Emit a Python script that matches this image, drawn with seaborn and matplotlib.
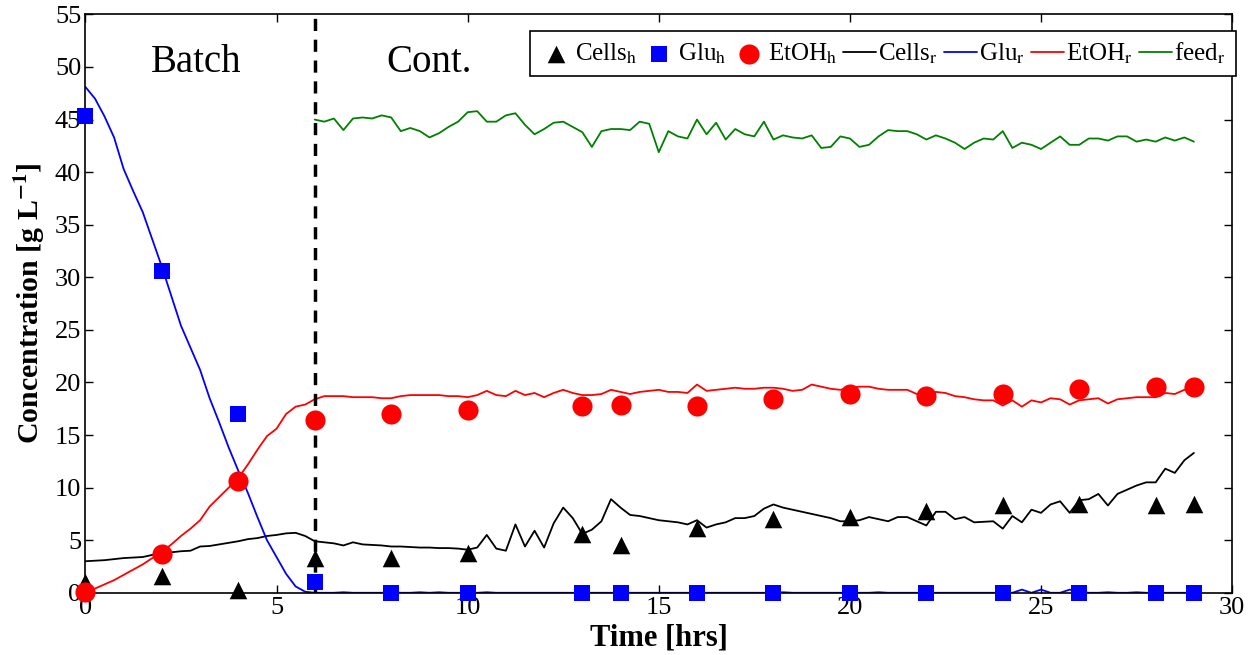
import numpy as np
import matplotlib
matplotlib.use('Agg')
import matplotlib.pyplot as plt
import seaborn as sns

# measured (hplc) samples
t_h = [0, 2, 4, 6, 8, 10, 13, 14, 16, 18, 20, 22, 24, 26, 28, 29]
cells_h = [1.0, 1.6, 0.3, 3.3, 3.3, 3.8, 5.6, 4.5, 6.2, 7.0, 7.2, 7.8, 8.3, 8.4, 8.3, 8.4]
glu_h = [45.3, 30.6, 17.0, 1.0, 0.0, 0.0, 0.0, 0.0, 0.0, 0.0, 0.0, 0.0, 0.0, 0.0, 0.0, 0.0]
etoh_h = [0.1, 3.7, 10.6, 16.4, 17.0, 17.4, 17.8, 17.9, 17.8, 18.4, 18.9, 18.7, 18.9, 19.4, 19.6, 19.6]

# real-time estimates, every 15 min
t_r = np.arange(0, 29.01, 0.25)
cells_r = [3.0, 3.05, 3.1, 3.2,  3.3, 3.35, 3.4, 3.6,  3.7, 3.85, 3.95, 4.0,
           4.4, 4.45, 4.6, 4.75,  4.9, 5.1, 5.2, 5.4,  5.5, 5.65, 5.7, 5.4,
           4.9, 4.8, 4.7, 4.5,  4.8, 4.6, 4.55, 4.5,  4.4, 4.4, 4.35, 4.3,
           4.3, 4.25, 4.25, 4.2,  4.1, 4.3, 5.5, 4.2,  4.0, 6.5, 4.4, 5.9,
           4.3, 6.6, 8.1, 7.1,  5.6, 6.0, 6.8, 8.9,  8.1, 7.4, 7.3, 7.1,
           6.9, 6.8, 6.7, 6.5,  6.9, 6.2, 6.5, 6.7,  7.1, 7.1, 7.3, 8.0,
           8.4, 8.1, 7.9, 7.7,  7.5, 7.3, 7.1, 6.8,  6.8, 6.9, 7.2, 7.0,
           6.8, 7.2, 7.2, 6.8,  6.4, 7.7, 7.7, 7.0,  7.2, 6.7, 6.75, 6.8,
           6.1, 7.3, 6.7, 7.9,  7.6, 8.4, 8.7, 7.6,  8.8, 8.9, 9.4, 8.3,
           9.4, 9.8, 10.2, 10.5,  10.5, 11.8, 11.4, 12.6,  13.3]
glu_r = [48.1, 47.0, 45.3, 43.3,  40.3, 38.2, 36.2, 33.6,  31.0, 28.2, 25.4, 23.3,
         21.2, 18.5, 16.2, 13.8,  11.6, 9.5, 7.2, 5.0,  3.4, 1.8, 0.6, 0.1,
         0.0, 0.0, 0.0, 0.05,  0.0, 0.0, 0.0, 0.0,  0.05, 0.0, 0.0, 0.05,
         0.0, 0.05, 0.0, 0.0,  0.0, 0.0, 0.05, 0.0,  0.0, 0.0, 0.0, 0.0,
         0.0, 0.0, 0.0, 0.0,  0.0, 0.0, 0.0, 0.0,  0.0, 0.0, 0.0, 0.0,
         0.0, 0.0, 0.0, 0.0,  0.0, 0.0, 0.0, 0.0,  0.0, 0.0, 0.0, 0.0,
         0.0, 0.05, 0.0, 0.0,  0.0, 0.0, 0.0, 0.0,  0.0, 0.0, 0.0, 0.05,
         0.0, 0.0, 0.0, 0.0,  0.0, 0.0, 0.0, 0.0,  0.0, 0.0, 0.0, 0.0,
         0.0, 0.0, 0.3, 0.0,  0.3, 0.0, 0.0, 0.3,  0.1, 0.0, 0.0, 0.05,
         0.0, 0.0, 0.05, 0.0,  0.0, 0.0, 0.0, 0.0,  0.0]
etoh_r = [0.1, 0.4, 0.8, 1.2,  1.7, 2.2, 2.7, 3.3,  3.9, 4.6, 5.4, 6.1,
          6.9, 8.2, 9.1, 10.0,  10.9, 12.2, 13.6, 14.9,  15.6, 17.0, 17.7, 17.9,
          18.4, 18.7, 18.7, 18.7,  18.6, 18.6, 18.6, 18.5,  18.5, 18.7, 18.8, 18.8,
          18.8, 18.8, 18.7, 18.7,  18.6, 18.8, 19.2, 18.8,  18.7, 19.2, 18.8, 19.0,
          18.6, 19.0, 19.3, 19.0,  18.8, 18.8, 18.9, 19.3,  19.1, 18.9, 19.1, 19.2,
          19.3, 19.1, 19.1, 19.0,  19.8, 19.2, 19.3, 19.4,  19.5, 19.4, 19.4, 19.5,
          19.5, 19.4, 19.2, 19.3,  19.8, 19.6, 19.4, 19.3,  19.5, 19.6, 19.6, 19.4,
          19.3, 19.3, 19.3, 18.9,  18.7, 19.1, 19.0, 18.7,  18.6, 18.4, 18.3, 18.3,
          17.8, 18.3, 17.7, 18.3,  18.1, 18.5, 18.4, 17.9,  18.3, 18.4, 18.5, 18.0,
          18.4, 18.5, 18.6, 18.6,  18.6, 19.0, 18.9, 19.3,  19.6]
# feed starts at 6 h
t_feed = t_r[24:]
feed_r = [45.0, 44.8, 45.1, 44.0,  45.1, 45.2, 45.1, 45.4,  45.2, 43.9, 44.2, 43.9,
          43.3, 43.7, 44.3, 44.8,  45.7, 45.8, 44.8, 44.8,  45.4, 45.6, 44.5, 43.6,
          44.1, 44.7, 44.8, 44.3,  43.8, 42.4, 43.9, 44.1,  44.1, 44.0, 44.8, 44.6,
          41.9, 43.9, 43.4, 43.2,  45.0, 43.6, 44.7, 43.1,  44.1, 43.6, 43.4, 44.8,
          43.1, 43.5, 43.3, 43.2,  43.5, 42.3, 42.4, 43.4,  43.2, 42.4, 42.6, 43.4,
          44.0, 43.9, 43.9, 43.6,  43.1, 43.5, 43.2, 42.8,  42.2, 42.8, 43.2, 43.1,
          43.9, 42.3, 42.8, 42.6,  42.2, 42.8, 43.4, 42.6,  42.6, 43.2, 43.2, 43.0,
          43.4, 43.4, 42.9, 43.1,  42.9, 43.3, 43.0, 43.3,  42.9]

sns.set_style('ticks')
plt.rcParams['font.family'] = ['Liberation Serif', 'DejaVu Serif']
plt.rcParams['mathtext.fontset'] = 'stix'
plt.rcParams['text.color'] = 'black'
plt.rcParams['axes.labelcolor'] = 'black'

fig, ax = plt.subplots(figsize=(12.56, 6.55), dpi=100)
fig.subplots_adjust(left=0.068, right=0.981, bottom=0.095, top=0.978)

sns.scatterplot(x=t_h, y=cells_h, marker='^', s=160, color='black', linewidth=0,
                label=r'Cells$_\mathrm{h}$', ax=ax, zorder=5, clip_on=False)
sns.scatterplot(x=t_h, y=glu_h, marker='s', s=120, color='blue', linewidth=0,
                label=r'Glu$_\mathrm{h}$', ax=ax, zorder=5, clip_on=False)
sns.scatterplot(x=t_h, y=etoh_h, marker='o', s=210, color='red', linewidth=0,
                label=r'EtOH$_\mathrm{h}$', ax=ax, zorder=5, clip_on=False)
sns.lineplot(x=t_r, y=cells_r, color='black', lw=1.3, label=r'Cells$_\mathrm{r}$', ax=ax)
sns.lineplot(x=t_r, y=glu_r, color='blue', lw=1.3, label=r'Glu$_\mathrm{r}$', ax=ax)
sns.lineplot(x=t_r, y=etoh_r, color='red', lw=1.3, label=r'EtOH$_\mathrm{r}$', ax=ax)
sns.lineplot(x=t_feed, y=feed_r, color='green', lw=1.3, label=r'feed$_\mathrm{r}$', ax=ax)

# batch -> continuous switch
ax.axvline(6, color='black', lw=2.5, ls='--', dashes=(3.5, 2.5), zorder=4)
ax.text(2.9, 50.4, 'Batch', fontsize=28, ha='center', va='center')
ax.text(9.0, 50.4, 'Cont.', fontsize=28, ha='center', va='center')

ax.set_xlim(0, 30)
ax.set_ylim(0, 55)
ax.set_xticks(range(0, 31, 5))
ax.set_yticks(range(0, 56, 5))
ax.tick_params(direction='in', top=True, right=True, length=6, width=1,
               labelsize=19, colors='black', pad=3)
for sp in ax.spines.values():
    sp.set_color('black')
    sp.set_linewidth(1.2)
ax.set_xlabel('Time [hrs]', fontsize=22, fontweight='bold', labelpad=3)
ax.set_ylabel(r'Concentration [g L$^{\mathbf{-1}}$]', fontsize=21.5, fontweight='bold', labelpad=6)

leg = ax.legend(loc='upper right', bbox_to_anchor=(1.003, 0.972), ncol=7, fontsize=18,
                frameon=True, fancybox=False, edgecolor='black', framealpha=1,
                handlelength=1.3, handletextpad=0.1, columnspacing=0.25,
                borderpad=0.4, borderaxespad=0)
leg.get_frame().set_linewidth(1.2)

fig.savefig('out.png', dpi=100)
